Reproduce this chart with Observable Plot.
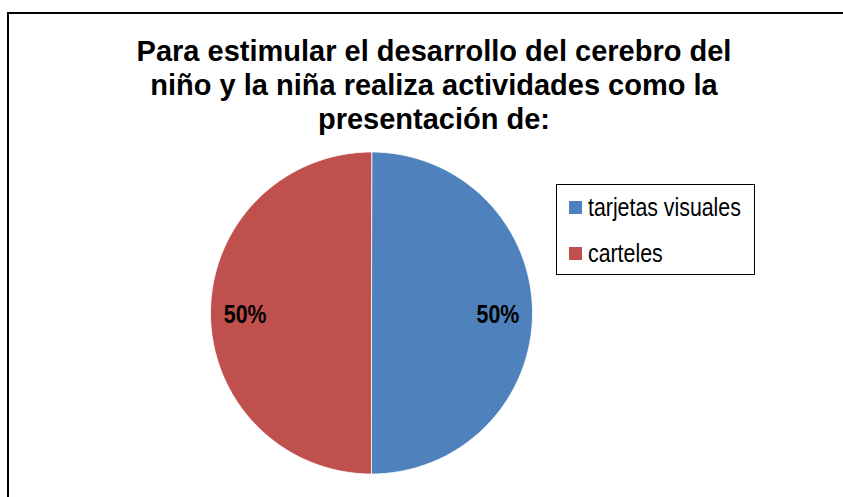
<!DOCTYPE html>
<html><head><meta charset="utf-8">
<script src="https://cdn.jsdelivr.net/npm/d3@7"></script>
<script src="https://cdn.jsdelivr.net/npm/@observablehq/plot@0.6"></script>
<style>
body{margin:0;background:#fff;}
#wrap{position:relative;width:843px;height:497px;overflow:hidden;font-family:"Liberation Sans",Arial,sans-serif;background:#fff;}
#frame{position:absolute;left:7px;top:12px;width:900px;height:600px;border-left:2px solid #000;border-top:2px solid #000;}
#chart{position:absolute;left:0;top:0;}
#title{position:absolute;left:34px;width:800px;top:34px;text-align:center;font-weight:bold;font-size:29px;line-height:34px;color:#000;}
#legend{position:absolute;left:556px;top:184px;width:199px;height:91px;border:1.5px solid #000;box-sizing:border-box;background:#fff;}
.item{position:absolute;left:12px;height:20px;display:flex;align-items:center;font-size:26px;color:#000;white-space:nowrap;}
.sw{width:13px;height:13px;margin-right:6px;flex:none;}
.lt{display:inline-block;transform:scaleX(0.82);transform-origin:left center;}
</style>
</head><body>
<div id="wrap">
  <div id="frame"></div>
  <div id="chart"></div>
  <div id="title"></div>
  <div id="legend"></div>
</div>
<script>
const titleLines = ["Para estimular el desarrollo del cerebro del", "niño y la niña realiza actividades como la", "presentación de:"];
const categories = ["tarjetas visuales", "carteles"];
const values = [50, 50];
const colors = ["#4F81BD", "#C0504D"];

document.getElementById("title").innerHTML = titleLines.join("<br>");

const W = 843, H = 497, cx = 371, cy = 312.5, R = 161;
const total = d3.sum(values);
const arcs = d3.pie().sort(null).value(d => d.value)(categories.map((c, i) => ({cat: c, value: values[i]})));

const slicePts = [];
for (const a of arcs) {
  slicePts.push({cat: a.data.cat, x: 0, y: 0});
  const n = 180;
  for (let k = 0; k <= n; k++) {
    const t = a.startAngle + (a.endAngle - a.startAngle) * k / n;
    slicePts.push({cat: a.data.cat, x: Math.sin(t), y: Math.cos(t)});
  }
}
const labels = arcs.map(a => {
  const m = (a.startAngle + a.endAngle) / 2;
  return {x: 0.785 * Math.sin(m), y: 0.785 * Math.cos(m) - 0.012, text: Math.round(a.data.value / total * 100) + "%"};
});

const plot = Plot.plot({
  width: W, height: H, margin: 0,
  style: {background: "transparent", fontFamily: "'Liberation Sans', Arial, sans-serif"},
  x: {domain: [-cx / R, (W - cx) / R], axis: null},
  y: {domain: [-(H - cy) / R, cy / R], axis: null},
  color: {domain: categories, range: colors},
  marks: [
    Plot.line(slicePts, {x: "x", y: "y", z: "cat", fill: "cat", stroke: "#fff", strokeWidth: 0.8, curve: "linear-closed"}),
    Plot.text(labels, {x: "x", y: "y", text: "text", fontSize: 26, fontWeight: "bold", fill: "#000"})
  ]
});
document.getElementById("chart").appendChild(plot);

// condense the data labels horizontally (narrow face as in the reference)
d3.select(plot).selectAll("g[aria-label=text] text").each(function() {
  const w = this.getComputedTextLength();
  this.setAttribute("textLength", (w * 0.82).toFixed(1));
  this.setAttribute("lengthAdjust", "spacingAndGlyphs");
});

const leg = document.getElementById("legend");
categories.forEach((c, i) => {
  const it = document.createElement("div");
  it.className = "item";
  it.style.top = (12 + i * 46) + "px";
  it.innerHTML = `<span class="sw" style="background:${plot.scale("color").apply(c)}"></span><span class="lt">${c}</span>`;
  leg.appendChild(it);
});
</script>
</body></html>
